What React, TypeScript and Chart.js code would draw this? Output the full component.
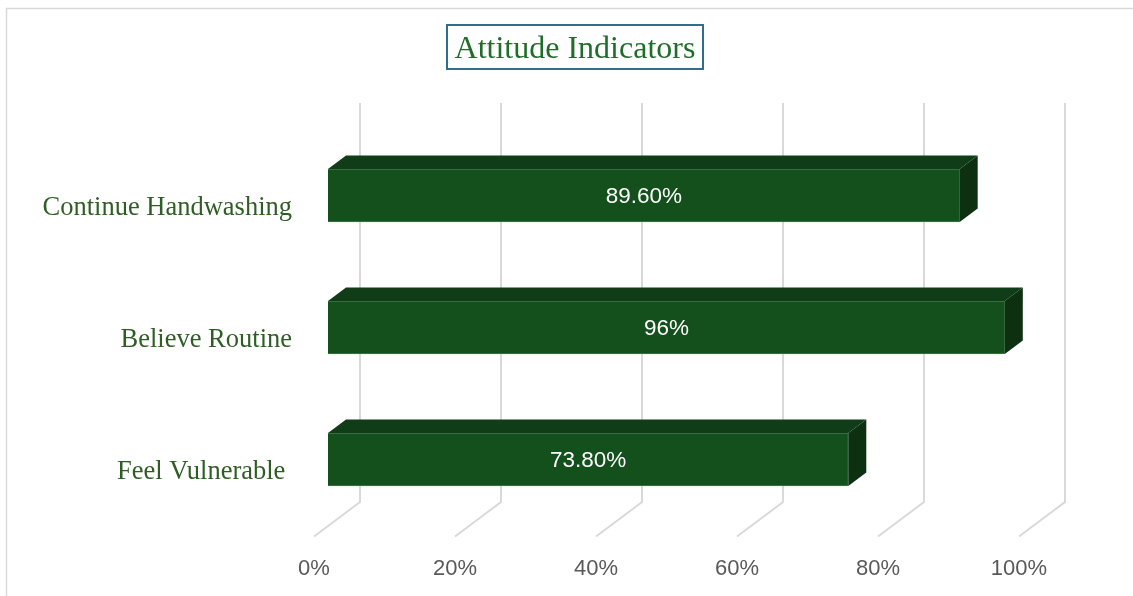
import React, { useEffect, useRef } from "react";
import { Chart, registerables } from "chart.js";

Chart.register(...registerables);

const chartTitle = "Attitude Indicators";
const categories = ["Continue Handwashing", "Believe Routine", "Feel Vulnerable "];
const values = [89.6, 96, 73.8];
const valueLabels = ["89.60%", "96%", "73.80%"];
const tickValues = [0, 20, 40, 60, 80, 100];

const SANS = "'Liberation Sans', Arial, sans-serif";
const SERIF = "'Liberation Serif', 'Times New Roman', serif";

const FRONT = "#13501b";
const TOP = "#103d17";
const SIDE = "#0d3011";
const GRID = "#d9d9d9";

const threeD = {
  id: "threeD",
  beforeDraw(chart: any) {
    const ctx = chart.ctx;
    ctx.save();
    ctx.strokeStyle = GRID;
    ctx.lineWidth = 1.5;
    ctx.beginPath();
    ctx.moveTo(6.5, chart.height);
    ctx.lineTo(6.5, 8.5);
    ctx.lineTo(chart.width, 8.5);
    ctx.stroke();
    ctx.restore();
  },
  beforeDatasetsDraw(chart: any) {
    const ctx = chart.ctx;
    const xs = chart.scales.x;
    const area = chart.chartArea;
    const wallTop = area.top - 26.5;
    const wallBottom = area.bottom - 23.5;
    const floorFront = area.bottom + 11;
    ctx.save();
    ctx.strokeStyle = GRID;
    ctx.lineWidth = 2;
    ctx.lineJoin = "miter";
    for (const v of tickValues) {
      const px = xs.getPixelForValue(v);
      ctx.beginPath();
      ctx.moveTo(px + 32, wallTop);
      ctx.lineTo(px + 32, wallBottom);
      ctx.lineTo(px - 14, floorFront);
      ctx.stroke();
    }
    ctx.restore();
  },
  afterDatasetsDraw(chart: any) {
    const ctx = chart.ctx;
    const meta = chart.getDatasetMeta(0);
    const dx = 18;
    const dy = 13.5;
    ctx.save();
    meta.data.forEach((el: any, i: number) => {
      const p = el.getProps(["x", "y", "base", "height"], true);
      const top = p.y - p.height / 2;
      const bot = p.y + p.height / 2;
      // top face
      ctx.fillStyle = TOP;
      ctx.beginPath();
      ctx.moveTo(p.base, top);
      ctx.lineTo(p.base + dx, top - dy);
      ctx.lineTo(p.x + dx, top - dy);
      ctx.lineTo(p.x, top);
      ctx.closePath();
      ctx.fill();
      // side face
      ctx.fillStyle = SIDE;
      ctx.beginPath();
      ctx.moveTo(p.x, top);
      ctx.lineTo(p.x + dx, top - dy);
      ctx.lineTo(p.x + dx, bot - dy);
      ctx.lineTo(p.x, bot);
      ctx.closePath();
      ctx.fill();
      // label
      ctx.fillStyle = "#ffffff";
      ctx.font = `22.5px ${SANS}`;
      ctx.textAlign = "center";
      ctx.textBaseline = "middle";
      ctx.fillText(valueLabels[i], (p.base + p.x) / 2, p.y + 1.5);
    });
    ctx.restore();
  },
};

export default function App() {
  const ref = useRef<HTMLCanvasElement | null>(null);

  useEffect(() => {
    if (!ref.current) return;
    const chart = new Chart(ref.current, {
      type: "bar",
      data: {
        labels: categories,
        datasets: [
          {
            data: values,
            backgroundColor: FRONT,
            borderColor: "#5f8a62",
            borderWidth: 0.8,
            barThickness: 53,
          },
        ],
      },
      options: {
        indexAxis: "y",
        responsive: false,
        animation: false,
        devicePixelRatio: 1,
        layout: { padding: { left: 0, top: 129.5, right: 100, bottom: 0 } },
        plugins: {
          legend: { display: false },
          tooltip: { enabled: false },
          title: { display: false },
        },
        scales: {
          x: {
            min: 0,
            max: 100,
            grid: { display: false, drawTicks: false },
            border: { display: false },
            ticks: {
              stepSize: 20,
              callback: (v: any) => `${v}%`,
              font: { size: 22, family: SANS },
              color: "#595959",
              labelOffset: -14,
              padding: 30,
              autoSkip: false,
              maxRotation: 0,
            },
            afterFit: (s: any) => {
              s.height = 70.5;
            },
          },
          y: {
            grid: { display: false, drawTicks: false },
            border: { display: false },
            ticks: {
              font: { size: 26.5, family: SERIF },
              color: "#2f5e24",
              padding: 36,
              labelOffset: 13,
            },
            afterFit: (s: any) => {
              s.width = 328;
            },
          },
        },
      },
      plugins: [threeD],
    });
    return () => chart.destroy();
  }, []);

  return (
    <div
      style={{
        position: "fixed",
        left: 0,
        top: 0,
        width: 1133,
        height: 596,
        background: "#ffffff",
        overflow: "hidden",
      }}
    >
      <canvas ref={ref} width={1133} height={596} style={{ position: "absolute", left: 0, top: 0 }} />
      <div
        style={{
          position: "absolute",
          left: 446,
          top: 24,
          width: 254,
          height: 42,
          border: "2px solid #2e6f8e",
          color: "#1e6d29",
          fontFamily: SERIF,
          fontSize: 32,
          lineHeight: "42px",
          textAlign: "center",
          whiteSpace: "nowrap",
        }}
      >
        {chartTitle}
      </div>
    </div>
  );
}
